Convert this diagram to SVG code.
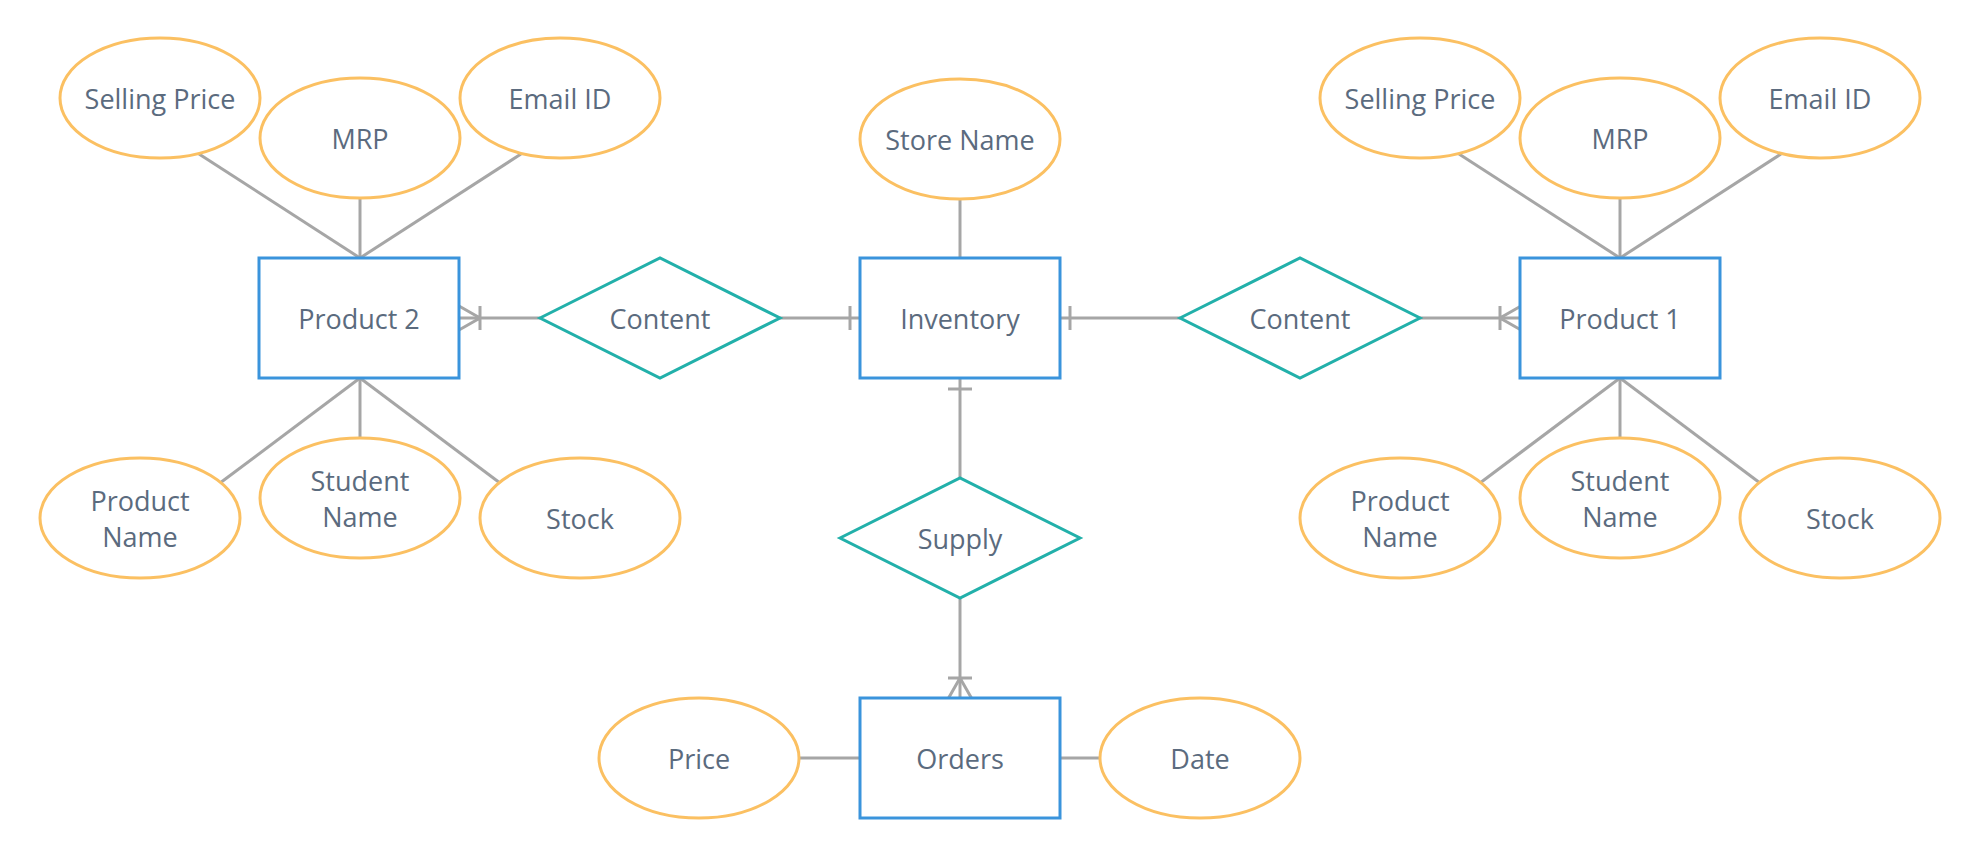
<svg xmlns="http://www.w3.org/2000/svg" width="1977" height="858" viewBox="0 0 1977 858">
<style>
.ent{fill:#fff;stroke:#3a94dc;stroke-width:3}
.rel{fill:#fff;stroke:#22b0aa;stroke-width:3}
.att{fill:#fff;stroke:#fbc062;stroke-width:3}
.ln{stroke:#a6a6a6;stroke-width:3;fill:none}
text{font-family:"Open Sans","Noto Sans","Liberation Sans",sans-serif;font-size:27px;fill:#5b6b7e;text-anchor:middle;dominant-baseline:central}
</style>
<rect width="1977" height="858" fill="#fff"/>
<g id="connectors">
<line class="ln" x1="199" y1="154" x2="360" y2="258"/>
<line class="ln" x1="360" y1="198" x2="360" y2="258"/>
<line class="ln" x1="521" y1="154" x2="360" y2="258"/>
<line class="ln" x1="220" y1="483" x2="360" y2="378"/>
<line class="ln" x1="360" y1="438" x2="360" y2="378"/>
<line class="ln" x1="500" y1="483" x2="360" y2="378"/>
<line class="ln" x1="1459" y1="154" x2="1620" y2="258"/>
<line class="ln" x1="1620" y1="198" x2="1620" y2="258"/>
<line class="ln" x1="1781" y1="154" x2="1620" y2="258"/>
<line class="ln" x1="1480" y1="483" x2="1620" y2="378"/>
<line class="ln" x1="1620" y1="438" x2="1620" y2="378"/>
<line class="ln" x1="1760" y1="483" x2="1620" y2="378"/>
<line class="ln" x1="960" y1="199" x2="960" y2="258"/>
<line class="ln" x1="800" y1="758" x2="860" y2="758"/>
<line class="ln" x1="1060" y1="758" x2="1099" y2="758"/>
<line class="ln" x1="459" y1="318" x2="540" y2="318"/>
<path class="ln" d="M459 306 L480 318 L459 330 M480 306 L480 330"/>
<line class="ln" x1="780" y1="318" x2="860" y2="318"/>
<path class="ln" d="M850 306 L850 330"/>
<line class="ln" x1="1060" y1="318" x2="1180" y2="318"/>
<path class="ln" d="M1070 306 L1070 330"/>
<line class="ln" x1="1420" y1="318" x2="1520" y2="318"/>
<path class="ln" d="M1521 306 L1500 318 L1521 330 M1500 306 L1500 330"/>
<line class="ln" x1="960" y1="378" x2="960" y2="478"/>
<path class="ln" d="M948 389 L972 389"/>
<line class="ln" x1="960" y1="598" x2="960" y2="698"/>
<path class="ln" d="M948 699 L960 678 L972 699 M948 678 L972 678"/>
</g>
<g id="product2"><rect class="ent" x="259" y="258" width="200" height="120"/><text x="359" y="318">Product 2</text></g>
<g id="inventory"><rect class="ent" x="860" y="258" width="200" height="120"/><text x="960" y="318">Inventory</text></g>
<g id="product1"><rect class="ent" x="1520" y="258" width="200" height="120"/><text x="1620" y="318">Product 1</text></g>
<g id="orders"><rect class="ent" x="860" y="698" width="200" height="120"/><text x="960" y="758">Orders</text></g>
<g id="content-left"><polygon class="rel" points="540,318 660,258 780,318 660,378"/><text x="660" y="318">Content</text></g>
<g id="content-right"><polygon class="rel" points="1180,318 1300,258 1420,318 1300,378"/><text x="1300" y="318">Content</text></g>
<g id="supply"><polygon class="rel" points="840,538 960,478 1080,538 960,598"/><text x="960" y="538">Supply</text></g>
<g id="p2-selling-price"><ellipse class="att" cx="160" cy="98" rx="100" ry="60"/><text x="160" y="98">Selling Price</text></g>
<g id="p2-mrp"><ellipse class="att" cx="360" cy="138" rx="100" ry="60"/><text x="360" y="138">MRP</text></g>
<g id="p2-email"><ellipse class="att" cx="560" cy="98" rx="100" ry="60"/><text x="560" y="98">Email ID</text></g>
<g id="p2-product-name"><ellipse class="att" cx="140" cy="518" rx="100" ry="60"/><text x="140" y="500">Product</text><text x="140" y="536">Name</text></g>
<g id="p2-student-name"><ellipse class="att" cx="360" cy="498" rx="100" ry="60"/><text x="360" y="480">Student</text><text x="360" y="516">Name</text></g>
<g id="p2-stock"><ellipse class="att" cx="580" cy="518" rx="100" ry="60"/><text x="580" y="518">Stock</text></g>
<g id="p1-selling-price"><ellipse class="att" cx="1420" cy="98" rx="100" ry="60"/><text x="1420" y="98">Selling Price</text></g>
<g id="p1-mrp"><ellipse class="att" cx="1620" cy="138" rx="100" ry="60"/><text x="1620" y="138">MRP</text></g>
<g id="p1-email"><ellipse class="att" cx="1820" cy="98" rx="100" ry="60"/><text x="1820" y="98">Email ID</text></g>
<g id="p1-product-name"><ellipse class="att" cx="1400" cy="518" rx="100" ry="60"/><text x="1400" y="500">Product</text><text x="1400" y="536">Name</text></g>
<g id="p1-student-name"><ellipse class="att" cx="1620" cy="498" rx="100" ry="60"/><text x="1620" y="480">Student</text><text x="1620" y="516">Name</text></g>
<g id="p1-stock"><ellipse class="att" cx="1840" cy="518" rx="100" ry="60"/><text x="1840" y="518">Stock</text></g>
<g id="store-name"><ellipse class="att" cx="960" cy="139" rx="100" ry="60"/><text x="960" y="139">Store Name</text></g>
<g id="price"><ellipse class="att" cx="699" cy="758" rx="100" ry="60"/><text x="699" y="758">Price</text></g>
<g id="date"><ellipse class="att" cx="1200" cy="758" rx="100" ry="60"/><text x="1200" y="758">Date</text></g>
</svg>
